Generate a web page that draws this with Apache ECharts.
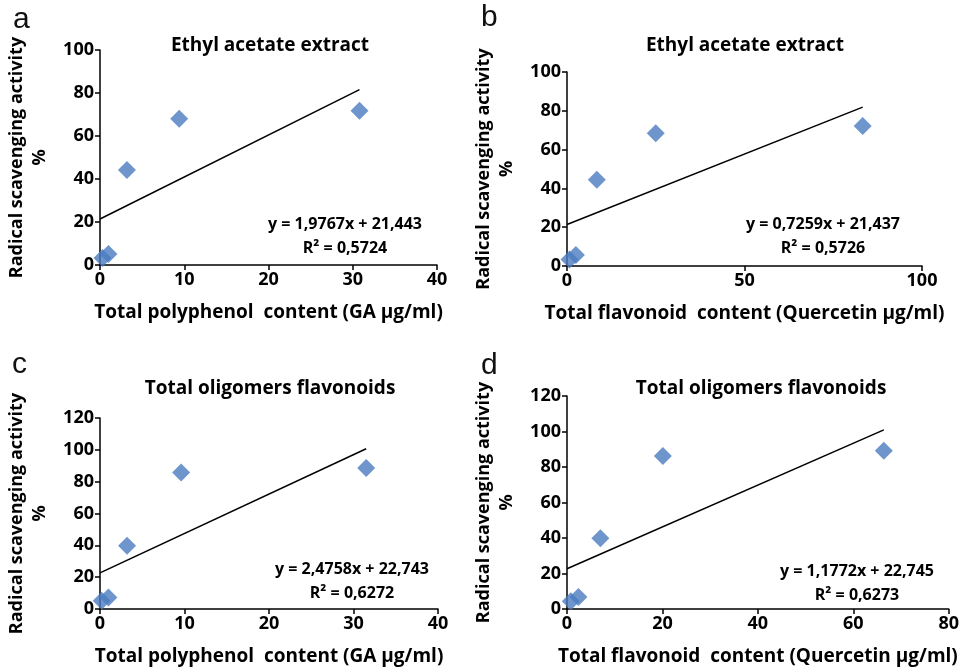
<!DOCTYPE html>
<html>
<head>
<meta charset="utf-8">
<style>
  html, body { margin: 0; padding: 0; background: #fff; }
  #chart { width: 962px; height: 671px; }
</style>
<script src="https://cdn.jsdelivr.net/npm/echarts@6/dist/echarts.min.js"></script>
</head>
<body>
<div id="chart"></div>
<script>
// 数据
const polyA = [[0.3, 3.3], [1.0, 5.1], [3.2, 44.2], [9.4, 68.0], [30.8, 71.8]];
const trendA = [[0, 21.4], [30.8, 81.6]];
const flavB = [[0.7, 3.4], [2.5, 5.7], [8.4, 44.5], [25.0, 68.4], [83.3, 72.2]];
const trendB = [[0, 21.4], [83.3, 81.9]];
const polyC = [[0.2, 5.2], [1.0, 7.3], [3.2, 39.7], [9.6, 85.7], [31.5, 88.6]];
const trendC = [[0, 22.7], [31.5, 100.7]];
const flavD = [[0.8, 4.3], [2.4, 6.7], [7.0, 39.9], [20.1, 86.2], [66.4, 89.1]];
const trendD = [[0, 22.7], [66.4, 100.9]];

const panelLetters = ['a', 'b', 'c', 'd'];
const panelTitles = ['Ethyl acetate extract', 'Ethyl acetate extract', 'Total oligomers flavonoids', 'Total oligomers flavonoids'];
const xNames = [
  'Total polyphenol  content (GA \u00b5g/ml)',
  'Total flavonoid  content (Quercetin \u00b5g/ml)',
  'Total polyphenol  content (GA \u00b5g/ml)',
  'Total flavonoid  content (Quercetin \u00b5g/ml)'
];
const yName = 'Radical scavenging activity\n%';
const equations = ['y = 1,9767x + 21,443', 'y = 0,7259x + 21,437', 'y = 2,4758x + 22,743', 'y = 1,1772x + 22,745'];
const rSquared = ['R\u00b2 = 0,5724', 'R\u00b2 = 0,5726', 'R\u00b2 = 0,6272', 'R\u00b2 = 0,6273'];
const xMax = [40, 100, 40, 80];
const xStep = [10, 50, 10, 20];
const yMax = [100, 100, 120, 120];
const yStep = [20, 20, 20, 20];

const scatterData = [polyA, flavB, polyC, flavD];
const trendData = [trendA, trendB, trendC, trendD];

// 布局
const grids = [
  { left: 100, top: 50, width: 337, height: 215 },
  { left: 567, top: 72, width: 355, height: 194 },
  { left: 100, top: 418, width: 338, height: 191 },
  { left: 567, top: 396, width: 383, height: 213 }
];
const titlePos = [[270, 46], [745, 46], [270, 389], [761, 389]];
const eqPos = [[345, 224], [823, 224], [352, 569], [857, 571]];
const letterPos = [[13, 5], [481, 3], [12, 350], [481, 351]];

const FONT = '"Open Sans", Lato, sans-serif';
const blue = '#4a7cc0';

const axisCommon = {
  axisLine: { lineStyle: { color: '#000', width: 1.5 } },
  axisTick: { inside: false, length: 5, lineStyle: { color: '#000', width: 1.5 } },
  axisLabel: { color: '#000', fontWeight: 'bold', fontSize: 18, fontFamily: FONT, margin: 6 },
  splitLine: { show: false }
};

const xAxes = grids.map((g, i) => ({
  ...axisCommon,
  gridIndex: i,
  type: 'value',
  min: 0,
  max: xMax[i],
  interval: xStep[i],
  name: xNames[i],
  nameLocation: 'middle',
  nameGap: 38,
  nameTextStyle: { color: '#000', fontWeight: 'bold', fontSize: 19, fontFamily: FONT }
}));

const yAxes = grids.map((g, i) => ({
  ...axisCommon,
  gridIndex: i,
  type: 'value',
  min: 0,
  max: yMax[i],
  interval: yStep[i],
  name: yName,
  nameLocation: 'middle',
  nameGap: 49,
  nameTextStyle: { color: '#000', fontWeight: 'bold', fontSize: 18, fontFamily: FONT, lineHeight: 23 }
}));

const series = [];
scatterData.forEach((data, i) => {
  series.push({
    type: 'line',
    xAxisIndex: i,
    yAxisIndex: i,
    data: trendData[i],
    showSymbol: false,
    lineStyle: { color: '#000', width: 1.5 },
    silent: true
  });
  series.push({
    type: 'scatter',
    xAxisIndex: i,
    yAxisIndex: i,
    data: data,
    symbol: 'diamond',
    symbolSize: [18, 18],
    itemStyle: { color: blue }
  });
});

const graphics = [];
panelLetters.forEach((letter, i) => {
  graphics.push({
    type: 'text',
    left: letterPos[i][0],
    top: letterPos[i][1],
    style: { text: letter, fill: '#111', font: '30px "Liberation Sans", Arial, sans-serif' }
  });
  graphics.push({
    type: 'text',
    x: titlePos[i][0],
    y: titlePos[i][1],
    style: {
      text: panelTitles[i], fill: '#000', align: 'center', verticalAlign: 'middle',
      font: 'bold 19px ' + FONT
    }
  });
  graphics.push({
    type: 'text',
    x: eqPos[i][0],
    y: eqPos[i][1],
    style: {
      text: equations[i], fill: '#000', align: 'center', verticalAlign: 'middle',
      font: 'bold 16px ' + FONT
    }
  });
  graphics.push({
    type: 'text',
    x: eqPos[i][0],
    y: eqPos[i][1] + 24,
    style: {
      text: rSquared[i], fill: '#000', align: 'center', verticalAlign: 'middle',
      font: 'bold 16px ' + FONT
    }
  });
});

const chart = echarts.init(document.getElementById('chart'), null, { renderer: 'canvas' });
chart.setOption({
  animation: false,
  backgroundColor: '#fff',
  grid: grids,
  xAxis: xAxes,
  yAxis: yAxes,
  series: series,
  graphic: graphics
});
</script>
</body>
</html>
